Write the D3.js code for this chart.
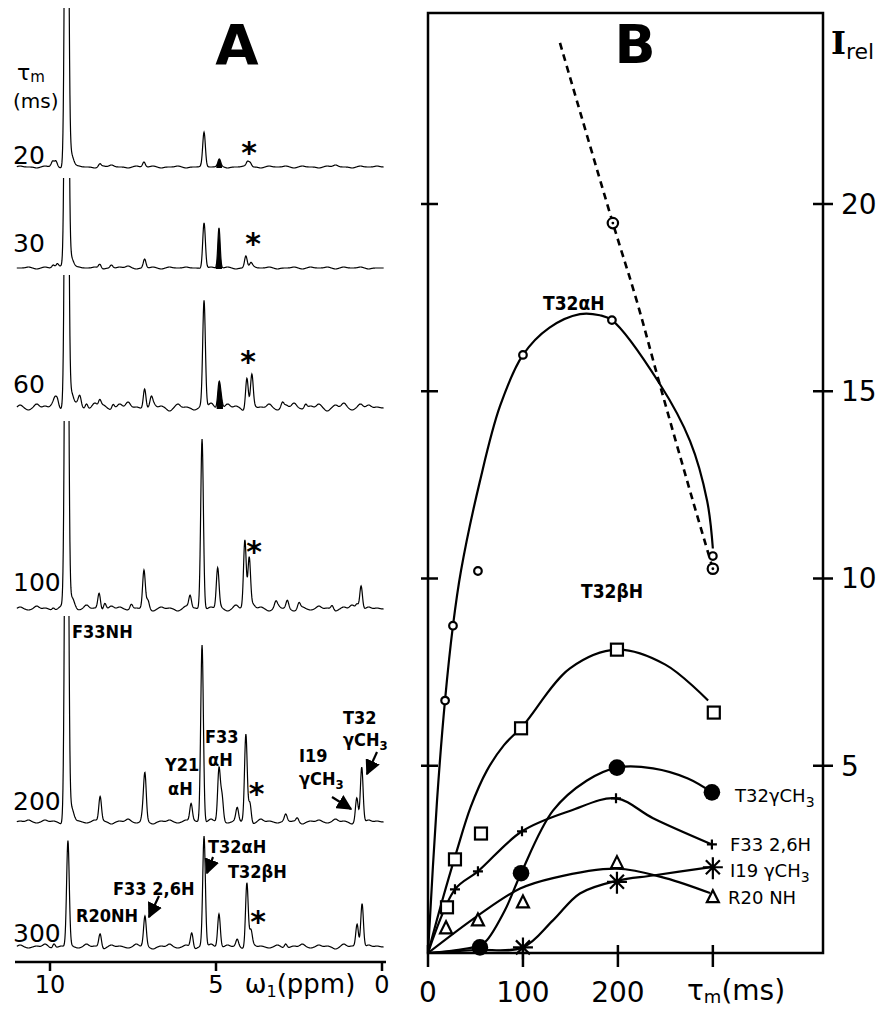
<!DOCTYPE html>
<html>
<head>
<meta charset="utf-8">
<script src="https://cdn.jsdelivr.net/npm/d3@7"></script>
<style>
  body { margin: 0; background: #fff; }
  text { font-family: "DejaVu Sans", sans-serif; fill: #000; }
  .lbl { font-family: "DejaVu Sans Condensed", "DejaVu Sans", sans-serif; font-weight: bold; }
</style>
</head>
<body>
<svg id="fig" width="882" height="1010"></svg>
<script>
// ---------- panel A : 1D slices, peaks as [ppm, height, width(ppm)] ----------
const mixingTimes = ["20", "30", "60", "100", "200", "300"];

const peaks20 = [[9.92, 4], [9.82, 5], [9.5, 700, 0.045], [9.38, 14, 0.08], [8.5, 3], [7.17, 5], [5.36, 34], [4.9, 6], [4.05, 5], [3.97, 4]];
const peaks30 = [[9.9, 3], [9.78, 4], [9.5, 700, 0.045], [9.38, 12, 0.08], [8.5, 4], [8.15, 3], [7.15, 9], [5.36, 46], [4.91, 40, 0.035], [4.1, 12], [3.95, 4]];
const peaks60 = [[9.85, 6], [9.78, 8], [9.5, 700, 0.045], [9.35, 12, 0.07], [9.1, 8], [8.9, 6], [8.5, 7], [8.1, 5], [7.15, 21], [6.95, 8], [5.36, 105], [4.91, 25], [4.85, 10], [4.07, 31], [3.92, 31], [3.0, 5], [2.3, 4]];
const peaks100 = [[9.9, 3], [9.5, 700, 0.045], [9.33, 10, 0.07], [8.52, 16], [8.35, 7], [7.55, 5], [7.17, 36], [7.05, 8], [5.78, 13], [5.42, 171], [4.95, 39], [4.13, 68], [4.0, 50], [3.2, 5], [2.85, 8], [2.5, 6], [1.5, 4], [0.75, 5], [0.63, 24]];
const peaks200 = [[9.5, 700, 0.045], [9.35, 12, 0.07], [8.49, 25], [7.2, 8], [7.14, 45], [5.75, 18], [5.42, 179], [4.91, 52], [4.82, 25], [4.36, 13], [4.1, 87], [3.98, 20], [2.9, 6], [2.55, 4], [0.76, 24], [0.61, 54]];
const peaks300 = [[9.88, 5], [9.46, 105], [8.49, 14], [7.14, 29], [5.73, 15], [5.36, 110], [4.91, 34], [4.36, 7], [4.07, 65], [3.95, 15], [2.9, 5], [0.75, 23], [0.6, 44]];

// baseline ripple, one value every 0.25 ppm starting at 10.9 ppm
const noise20 = [1, 0, -1, 1, 2, -1, 0, 1, 0, -1, 1, 2, 0, -1, 1, 0, 1, -1, 0, 1, -1, 0, 1, 0, 2, -1, 0, 1, 0, -1, 1, 0, 1, -1, 1, 0, -1, 1, 2, 0, -1, 1, 0, 1];
const noise30 = [0, 1, -1, 1, 0, 2, -1, 1, 0, 1, -1, 0, 1, 2, -1, 0, 1, -1, 1, 0, 1, 0, -1, 1, 0, 1, -1, 0, 2, 0, 1, -1, 0, 1, -1, 1, 0, 1, -1, 1, 0, 1, -1, 0];
const noise60 = [3, -2, 4, 2, 5, -1, 4, 6, -2, 5, 3, -2, 4, 6, 1, -2, 5, 2, -3, 4, 1, -2, 3, 5, -2, 4, 2, -3, 3, 1, 4, -2, 3, 5, -1, 2, 4, -3, 3, 5, -2, 4, 3, 1];
const noise100 = [2, -1, 3, 1, -2, 3, 2, -1, 4, 1, -2, 3, 2, -1, 1, 3, -2, 2, 1, -2, 3, 1, -1, 2, 3, -2, 4, 1, 5, 2, -2, 4, 1, -2, 2, -1, 3, 1, -2, 2, 4, -1, 2, 1];
const noise200 = [1, 2, -1, 2, 1, -2, 3, 1, -1, 2, 1, -2, 1, 3, -1, 2, -2, 1, 2, -1, 2, 1, -2, 3, 1, -1, 2, 1, -2, 3, 1, -1, 2, 1, -2, 1, 2, -1, 3, 1, -2, 1, 2, 1];
const noise300 = [2, -1, 1, 3, -2, 1, 2, -1, 3, 1, -2, 2, 1, -1, 3, 2, -2, 1, 3, -1, 2, -2, 1, 3, -1, 2, 1, -2, 3, 1, -1, 2, -2, 1, 3, -1, 2, 1, -2, 3, 1, -1, 2, 1];

const ppmTicks = [10, 5, 0];

// ---------- panel B : build-up curves ----------
const tmTicks = [0, 100, 200, 300];
const tmTickLabels = ["0", "100", "200"];
const irelTicks = [5, 10, 15, 20];

const t32aHPts = [[18, 6.74], [26.3, 8.74], [52.6, 10.2], [100, 15.97], [193.7, 16.9], [300, 10.6]];
const t32aHFit = [[0, 0], [9.5, 4.07], [17.9, 6.74], [26.3, 8.74], [34.7, 10.2], [54.7, 12.6], [75.8, 14.6], [100, 15.97], [128, 16.7], [160, 17.06], [181, 17.03], [193.7, 16.9], [244, 15.2], [276, 13.67], [294, 12.07], [300, 10.8]];
const t32aHCorrPts = [[194.7, 19.49], [300, 10.26]];
const t32aHCorrFit = [[139, 24.3], [194.7, 19.49], [220, 17.4], [244, 15.19], [279, 12.07], [300, 10.26]];

const t32bHPts = [[20, 1.22], [28.4, 2.5], [55.8, 3.19], [98, 6.0], [199, 8.1], [301, 6.42]];
const t32bHFit = [[0, 0], [15, 1.4], [30, 2.7], [45, 3.9], [62, 4.87], [80, 5.55], [100, 6.07], [149.5, 7.6], [199, 8.1], [250, 7.7], [295, 6.74]];

const t32gPts = [[54.7, 0.15], [98, 2.13], [199, 4.95], [299, 4.29]];
const t32gFit = [[0, 0], [30, 0.08], [54.7, 0.2], [62, 0.34], [81, 1.14], [98, 2.13], [131.6, 3.8], [167, 4.6], [199, 4.95], [237, 4.93], [273.7, 4.66], [299, 4.29]];

const f33Pts = [[28.4, 1.7], [52.6, 2.18], [99, 3.25], [198, 4.13], [299, 2.9]];
const f33Fit = [[0, 0], [28.4, 1.7], [52.6, 2.18], [99, 3.25], [150, 3.8], [198, 4.13], [237, 3.6], [299, 2.9]];

const i19Pts = [[100, 0.15], [199, 1.9], [300, 2.29]];
const i19Fit = [[0, 0], [50, 0.08], [100, 0.15], [131.6, 0.87], [160, 1.59], [199, 1.93], [237, 2.07], [300, 2.3]];

const r20Pts = [[19, 0.66], [52.6, 0.87], [100, 1.35], [199, 2.4], [300, 1.49]];
const r20Fit = [[0, 0], [52.6, 1.0], [97, 1.72], [131.6, 2.0], [199, 2.25], [250, 2.0], [297, 1.6]];

// ---------------------------------------------------------------
const svg = d3.select("#fig");

// ===== panel A =====
const xA = d3.scaleLinear().domain([10, 0]).range([50, 382]);
const spectra = [
  { peaks: peaks20, noise: noise20, base: 167, top: 8, fill: [4.9, 0.09], star: [4.0, 149] },
  { peaks: peaks30, noise: noise30, base: 268, top: 178, fill: [4.91, 0.1], star: [3.88, 240] },
  { peaks: peaks60, noise: noise60, base: 408, top: 275, fill: [4.89, 0.1], star: [4.03, 358] },
  { peaks: peaks100, noise: noise100, base: 609, top: 421, fill: null, star: [3.85, 548] },
  { peaks: peaks200, noise: noise200, base: 822, top: 616, fill: null, star: [3.78, 790] },
  { peaks: peaks300, noise: noise300, base: 947, top: 830, fill: null, star: [3.73, 918] }
];
const labelY = [155, 243, 384, 582, 801, 933];

function intensity(p, peaks, noise) {
  let v = 0;
  peaks.forEach(([c, h, s]) => {
    const sg = s || 0.04;
    v += h * Math.exp(-((p - c) ** 2) / (2 * sg * sg));
  });
  noise.forEach((n, i) => {
    const c = 10.9 - i * 0.25;
    v += n * Math.exp(-((p - c) ** 2) / (2 * 0.07 * 0.07));
  });
  return v;
}

const ppmGrid = d3.range(11.0, -0.06, -0.01);

spectra.forEach((s, i) => {
  const y = d3.scaleLinear().domain([0, 100]).range([s.base, s.base - 100]);
  const data = ppmGrid.map(p => [p, intensity(p, s.peaks, s.noise)]);
  const clipId = "clip" + i;
  svg.append("clipPath").attr("id", clipId)
    .append("rect").attr("x", 0).attr("y", s.top).attr("width", 420).attr("height", s.base - s.top + 30);
  const g = svg.append("g").attr("clip-path", `url(#${clipId})`);

  if (s.fill) {
    const fd = data.filter(d => Math.abs(d[0] - s.fill[0]) <= s.fill[1]);
    g.append("path").datum(fd)
      .attr("d", d3.area().x(d => xA(d[0])).y0(s.base + 1).y1(d => y(d[1])))
      .attr("fill", "#000");
  }
  g.append("path").datum(data)
    .attr("d", d3.line().x(d => xA(d[0])).y(d => y(d[1])))
    .attr("fill", "none").attr("stroke", "#000").attr("stroke-width", 1.2);

  svg.append("text").attr("x", 13).attr("y", labelY[i] + 9)
    .attr("font-size", 25).text(mixingTimes[i]);
  svg.append("text").attr("x", xA(s.star[0])).attr("y", s.star[1] + 14)
    .attr("text-anchor", "middle").attr("font-size", 30).attr("font-weight", "bold").text("*");
});

// tau_m (ms) heading
svg.append("text").attr("x", 17).attr("y", 80).attr("font-size", 22).text("τ")
  .append("tspan").attr("font-size", 15).attr("dy", 2).text("m");
svg.append("text").attr("x", 13).attr("y", 108).attr("font-size", 20).text("(ms)");

// ppm axis
const axisYA = 962;
svg.append("line").attr("x1", 15).attr("x2", 386).attr("y1", axisYA).attr("y2", axisYA)
  .attr("stroke", "#000").attr("stroke-width", 2.5);
ppmTicks.forEach(t => {
  svg.append("line").attr("x1", xA(t)).attr("x2", xA(t)).attr("y1", axisYA).attr("y2", axisYA + 9)
    .attr("stroke", "#000").attr("stroke-width", 2.5);
  svg.append("text").attr("x", xA(t)).attr("y", 993).attr("text-anchor", "middle")
    .attr("font-size", 24).text(t);
});
const ppmTitle = svg.append("text").attr("x", 300).attr("y", 993).attr("text-anchor", "middle").attr("font-size", 26);
ppmTitle.append("tspan").text("ω");
ppmTitle.append("tspan").attr("font-size", 16).attr("dy", 4).text("1");
ppmTitle.append("tspan").attr("dy", -4).text("(ppm)");

svg.append("text").attr("x", 237).attr("y", 64).attr("text-anchor", "middle")
  .attr("font-size", 56).attr("font-weight", "bold").text("A");

// peak assignments
function lbl(x, y, txt, sub) {
  const t = svg.append("text").attr("class", "lbl").attr("x", x).attr("y", y).attr("font-size", 18);
  t.append("tspan").text(txt);
  if (sub) t.append("tspan").attr("font-size", 13).attr("dy", 4).text(sub);
  return t;
}
lbl(72, 638, "F33NH");
lbl(165, 771, "Y21");
lbl(168, 795, "αH");
lbl(205, 743, "F33");
lbl(208, 766, "αH");
lbl(299, 762, "I19");
lbl(299, 785, "γCH", "3");
lbl(343, 724, "T32");
lbl(343, 746, "γCH", "3");
lbl(76, 922, "R20NH");
lbl(113, 895, "F33 2,6H");
lbl(208, 853, "T32αH");
lbl(228, 878, "T32βH");

svg.append("defs").append("marker").attr("id", "arr")
  .attr("viewBox", "0 0 10 10").attr("refX", 9).attr("refY", 5)
  .attr("markerWidth", 7).attr("markerHeight", 7).attr("orient", "auto-start-reverse")
  .append("path").attr("d", "M0,0 L10,5 L0,10 z").attr("fill", "#000");
[[332, 797, 351, 809], [377, 752, 367, 774], [159, 896, 149, 917], [213, 857, 207, 873]].forEach(a => {
  svg.append("line").attr("x1", a[0]).attr("y1", a[1]).attr("x2", a[2]).attr("y2", a[3])
    .attr("stroke", "#000").attr("stroke-width", 2.2).attr("marker-end", "url(#arr)");
});

// ===== panel B =====
const xB = d3.scaleLinear().domain([0, 416]).range([428, 823]);
const yB = d3.scaleLinear().domain([0, 25.1]).range([953, 13]);
const gB = svg.append("g");

gB.append("rect").attr("x", xB(0)).attr("y", yB(25.1)).attr("width", xB(416) - xB(0))
  .attr("height", yB(0) - yB(25.1)).attr("fill", "none").attr("stroke", "#000").attr("stroke-width", 2.5);

tmTicks.forEach(t => {
  gB.append("line").attr("x1", xB(t)).attr("x2", xB(t)).attr("y1", yB(0) - 8).attr("y2", yB(0) + 14)
    .attr("stroke", "#000").attr("stroke-width", 2.5);
});
tmTickLabels.forEach((l, i) => {
  gB.append("text").attr("x", xB(tmTicks[i])).attr("y", 1002).attr("text-anchor", "middle")
    .attr("font-size", 28).text(l);
});
const tmTitle = gB.append("text").attr("x", 687).attr("y", 1000).attr("font-size", 28);
tmTitle.append("tspan").text("τ");
tmTitle.append("tspan").attr("font-size", 18).attr("dy", 3).text("m");
tmTitle.append("tspan").attr("dy", -3).text("(ms)");

irelTicks.forEach(v => {
  gB.append("line").attr("x1", xB(0) - 7).attr("x2", xB(0) + 10).attr("y1", yB(v)).attr("y2", yB(v))
    .attr("stroke", "#000").attr("stroke-width", 2.5);
  gB.append("line").attr("x1", xB(416) - 10).attr("x2", xB(416) + 10).attr("y1", yB(v)).attr("y2", yB(v))
    .attr("stroke", "#000").attr("stroke-width", 2.5);
  gB.append("text").attr("x", xB(416) + 18).attr("y", yB(v) + 10).attr("font-size", 28).text(v);
});
const irel = gB.append("text").attr("x", 831).attr("y", 54);
irel.append("tspan").attr("font-family", "DejaVu Serif, serif").attr("font-weight", "bold").attr("font-size", 32).text("I");
irel.append("tspan").attr("font-size", 22).attr("dy", 5).text("rel");

gB.append("text").attr("x", 635).attr("y", 63).attr("text-anchor", "middle")
  .attr("font-size", 54).attr("font-weight", "bold").text("B");

const curve = d3.line().x(d => xB(d[0])).y(d => yB(d[1])).curve(d3.curveCatmullRom.alpha(0.5));
function drawFit(fit, dashed) {
  gB.append("path").datum(fit).attr("d", curve).attr("fill", "none")
    .attr("stroke", "#000").attr("stroke-width", dashed ? 2.6 : 2.2)
    .attr("stroke-dasharray", dashed ? "7,5" : null);
}
drawFit(t32aHFit);
drawFit(t32aHCorrFit, true);
drawFit(t32bHFit);
drawFit(t32gFit);
drawFit(f33Fit);
drawFit(i19Fit);
drawFit(r20Fit);

function marks(pts, draw) {
  pts.forEach(d => draw(gB.append("g").attr("transform", `translate(${xB(d[0])},${yB(d[1])})`)));
}
const stk = sel => sel.attr("stroke", "#000").attr("stroke-width", 2.2);
marks(t32aHPts, g => stk(g.append("circle").attr("r", 3.8).attr("fill", "#fff")));
marks(t32aHCorrPts, g => {
  stk(g.append("circle").attr("r", 5.2).attr("fill", "#fff"));
  g.append("circle").attr("r", 1.4).attr("fill", "#000");
});
marks(t32bHPts, g => stk(g.append("rect").attr("x", -6).attr("y", -6).attr("width", 12).attr("height", 12).attr("fill", "#fff")));
marks(t32gPts, g => g.append("circle").attr("r", 8.3).attr("fill", "#000"));
marks(f33Pts, g => {
  stk(g.append("path").attr("d", "M-5,0H5M0,-5V5").attr("stroke-width", 2.6));
});
marks(i19Pts, g => {
  stk(g.append("path").attr("d", "M-10,0H10M0,-10V12M-7,-7L7,7M-7,7L7,-7").attr("stroke-width", 3.2));
});
marks(r20Pts, g => stk(g.append("path").attr("d", "M0,-7L6,5H-6Z").attr("fill", "#fff")));

function lblB(x, y, txt, sub, bold) {
  const t = gB.append("text").attr("x", x).attr("y", y).attr("font-size", bold ? 19 : 18)
    .attr("class", bold ? "lbl" : null)
    .attr("font-family", "DejaVu Sans Condensed, DejaVu Sans, sans-serif");
  t.append("tspan").text(txt);
  if (sub) t.append("tspan").attr("font-size", 14).attr("dy", 5).text(sub);
}
lblB(543, 310, "T32αH", null, true);
lblB(581, 598, "T32βH", null, true);
lblB(735, 802, "T32γCH", "3");
lblB(730, 851, "F33  2,6H");
lblB(730, 877, "I19 γCH", "3");
lblB(728, 904, "R20 NH");
</script>
</body>
</html>
